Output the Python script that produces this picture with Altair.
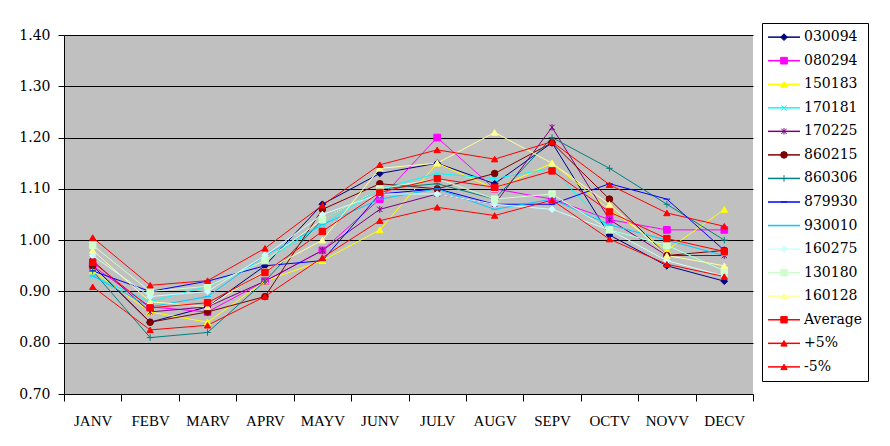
import altair as alt
import pandas as pd

months = ["JANV", "FEBV", "MARV", "APRV", "MAYV", "JUNV",
          "JULV", "AUGV", "SEPV", "OCTV", "NOVV", "DECV"]

names = ["030094", "080294", "150183", "170181", "170225", "860215",
         "860306", "879930", "930010", "160275", "130180", "160128",
         "Average", "+5%", "-5%"]

s030094 = [0.95, 0.84, 0.87, 0.95, 1.07, 1.13, 1.15, 1.11, 1.19, 1.01, 0.95, 0.92]
s080294 = [0.95, 0.87, 0.86, 0.92, 0.98, 1.08, 1.20, 1.10, 1.08, 1.04, 1.02, 1.02]
s150183 = [0.94, 0.86, 0.84, 0.92, 0.96, 1.02, 1.15, 1.10, 1.15, 1.06, 0.98, 1.06]
s170181 = [0.93, 0.88, 0.91, 0.96, 1.03, 1.10, 1.13, 1.12, 1.14, 1.02, 0.99, 0.94]
s170225 = [0.96, 0.86, 0.87, 0.92, 0.98, 1.06, 1.09, 1.07, 1.22, 1.04, 0.97, 0.97]
s860215 = [0.95, 0.84, 0.86, 0.89, 1.06, 1.11, 1.10, 1.13, 1.19, 1.08, 0.97, 0.98]
s860306 = [0.94, 0.81, 0.82, 0.92, 1.04, 1.10, 1.11, 1.08, 1.20, 1.14, 1.07, 1.00]
s879930 = [0.94, 0.90, 0.92, 0.95, 0.96, 1.09, 1.10, 1.07, 1.07, 1.11, 1.08, 0.98]
s930010 = [0.93, 0.87, 0.89, 0.97, 1.03, 1.08, 1.10, 1.06, 1.08, 1.03, 1.00, 0.97]
s160275 = [0.97, 0.89, 0.90, 0.97, 1.05, 1.09, 1.09, 1.07, 1.06, 1.02, 0.96, 0.93]
s130180 = [0.99, 0.90, 0.91, 0.96, 1.04, 1.10, 1.12, 1.08, 1.09, 1.02, 0.99, 0.94]
s160128 = [0.98, 0.88, 0.87, 0.94, 1.00, 1.14, 1.15, 1.21, 1.15, 1.07, 0.97, 0.95]
average = [0.957, 0.868, 0.878, 0.937, 1.017, 1.093, 1.120, 1.103, 1.135, 1.055, 1.003, 0.978]
plus5 = [1.005, 0.912, 0.921, 0.984, 1.068, 1.147, 1.176, 1.158, 1.192, 1.108, 1.053, 1.027]
minus5 = [0.909, 0.825, 0.834, 0.890, 0.966, 1.038, 1.064, 1.048, 1.078, 1.002, 0.953, 0.929]

y_ticks = [0.70, 0.80, 0.90, 1.00, 1.10, 1.20, 1.30, 1.40]

series_values = [s030094, s080294, s150183, s170181, s170225, s860215,
                 s860306, s879930, s930010, s160275, s130180, s160128,
                 average, plus5, minus5]

colors = ["#000080", "#FF00FF", "#FFFF00", "#00FFFF", "#800080", "#800000",
          "#008080", "#0000FF", "#00CCFF", "#CCFFFF", "#CCFFCC", "#FFFF99",
          "#FF0000", "#FF0000", "#FF0000"]

X_PATH = "M-0.8,-0.8L0.8,0.8M-0.8,0.8L0.8,-0.8"
STAR_PATH = "M-0.8,-0.8L0.8,0.8M-0.8,0.8L0.8,-0.8M0,-1L0,1"
PLUS_PATH = "M-1,0L1,0M0,-1L0,1"
DASH_PATH = "M-1,0L1,0"
shapes = ["diamond", "square", "triangle-up", X_PATH, STAR_PATH, "circle",
          PLUS_PATH, DASH_PATH, DASH_PATH, "diamond", "square", "triangle-up",
          "square", "triangle-up", "triangle-up"]
sizes = [45, 40, 50, 45, 60, 45, 50, 30, 30, 45, 40, 50, 120, 60, 60]
widths = [1, 1, 1, 1, 1, 1, 1, 1, 1, 1, 1, 1, 2.4, 1, 1]

rows = []
for name, vals in zip(names, series_values):
    for m, v in zip(months, vals):
        rows.append({"series": name, "month": m, "value": v})
df = pd.DataFrame(rows)

color_scale = alt.Scale(domain=names, range=colors)
shape_scale = alt.Scale(domain=names, range=shapes)
size_scale = alt.Scale(domain=names, range=sizes)
width_scale = alt.Scale(domain=names, range=widths)

x_enc = alt.X("month:N", sort=months, bandPosition=0.5,
              scale=alt.Scale(type="band", paddingInner=0, paddingOuter=0),
              axis=alt.Axis(title=None, labelAngle=0, tickBand="extent",
                            grid=False, domainColor="black", tickColor="black",
                            tickSize=7, labelPadding=12, labelFont="Liberation Serif",
                            labelFontSize=15, labelColor="black"))
y_enc = alt.Y("value:Q",
              scale=alt.Scale(domain=[0.70, 1.40], nice=False, zero=False),
              axis=alt.Axis(title=None, values=y_ticks, format=".2f", grid=True,
                            gridColor="black", gridOpacity=1, domainColor="black",
                            tickColor="black", tickSize=6, labelPadding=8,
                            labelFont="DejaVu Serif", labelFontSize=14,
                            labelColor="black"))

lines = alt.Chart(df).mark_line().encode(
    x=x_enc, y=y_enc,
    color=alt.Color("series:N", scale=color_scale, legend=None),
    strokeWidth=alt.StrokeWidth("series:N", scale=width_scale, legend=None),
)
points = alt.Chart(df).mark_point(filled=True, opacity=1, strokeWidth=1).encode(
    x=x_enc, y=y_enc,
    shape=alt.Shape("series:N", scale=shape_scale, legend=None),
    fill=alt.Fill("series:N", scale=color_scale, legend=None),
    stroke=alt.Stroke("series:N", scale=color_scale, legend=None),
    size=alt.Size("series:N", scale=size_scale, legend=None),
)
main = alt.layer(lines, points).properties(
    width=689, height=359,
    view=alt.ViewBackground(fill="#C0C0C0", strokeWidth=0),
)

spacer = alt.Chart(pd.DataFrame({"a": [0]})).mark_point(opacity=0).encode(
    x=alt.value(0), y=alt.value(0)
).properties(width=689, height=1, view=alt.ViewBackground(strokeWidth=0, fill="white"))

left = alt.vconcat(spacer, main, spacing=2)

leg_df = pd.DataFrame({"series": names})
leg_y = alt.Y("series:N", sort=names, axis=None,
              scale=alt.Scale(type="point", padding=0.6))
leg_base = alt.Chart(leg_df).encode(y=leg_y)
leg_rule = leg_base.mark_rule().encode(
    x=alt.value(6), x2=alt.value(38),
    color=alt.Color("series:N", scale=color_scale, legend=None),
    strokeWidth=alt.StrokeWidth("series:N",
                                scale=alt.Scale(domain=names, range=[1.5] * 12 + [2.5, 1.5, 1.5]),
                                legend=None),
)
leg_pts = leg_base.mark_point(filled=True, opacity=1, strokeWidth=1).encode(
    x=alt.value(22),
    shape=alt.Shape("series:N", scale=shape_scale, legend=None),
    fill=alt.Fill("series:N", scale=color_scale, legend=None),
    stroke=alt.Stroke("series:N", scale=color_scale, legend=None),
    size=alt.Size("series:N", scale=size_scale, legend=None),
)
leg_txt = leg_base.mark_text(align="left", baseline="middle", font="DejaVu Serif",
                             fontSize=14, color="black").encode(
    x=alt.value(42), text="series:N")
legend = alt.layer(leg_rule, leg_pts, leg_txt).properties(
    width=106, height=358,
    view=alt.ViewBackground(fill="white", stroke="black", strokeWidth=1),
)

chart = alt.hconcat(left, legend, spacing=7).resolve_scale(
    x="independent", y="independent", color="independent", shape="independent",
    fill="independent", stroke="independent", size="independent",
    strokeWidth="independent",
).properties(
    padding={"left": 10, "top": 12, "right": 5, "bottom": 5},
    background="white",
).configure_view(stroke=None)

chart.save("out.html", embed_options={"renderer": "svg", "actions": False})
